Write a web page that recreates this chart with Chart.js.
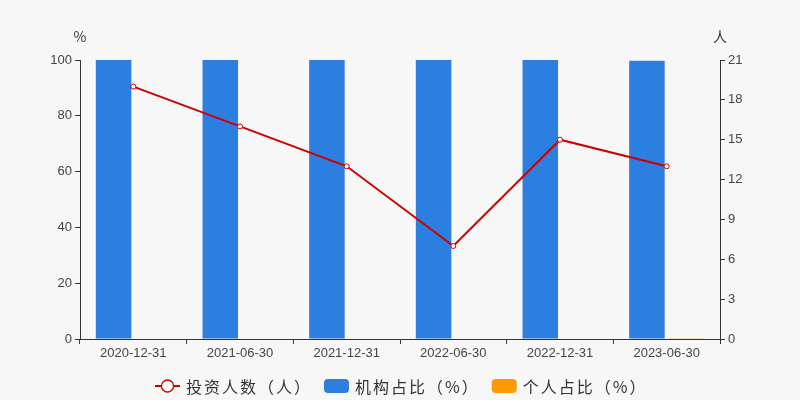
<!DOCTYPE html>
<html>
<head>
<meta charset="utf-8">
<script src="https://cdn.jsdelivr.net/npm/chart.js@4"></script>
<style>
  html, body { margin: 0; padding: 0; background: #f7f7f7; }
  #wrap { width: 800px; height: 400px; }
</style>
</head>
<body>
<div id="wrap"><canvas id="chart"></canvas></div>
<script>
// 数据
const categories = ['2020-12-31', '2021-06-30', '2021-12-31', '2022-06-30', '2022-12-31', '2023-06-30'];
const investors = [19, 16, 13, 7, 15, 13];
const institutionPct = [100, 100, 100, 100, 100, 99.72];
const personalPct = [0, 0, 0, 0, 0, 0.28];
const leftTicks = [0, 20, 40, 60, 80, 100];
const rightTicks = [0, 3, 6, 9, 12, 15, 18, 21];

const legendItems = [
    { label: '投资人数（人）', type: 'line', color: '#cc0000' },
    { label: '机构占比（%）', type: 'bar', color: '#2c7fe0' },
    { label: '个人占比（%）', type: 'bar', color: '#ff9900' }
];

const FONT = '"Liberation Sans", "Noto Sans CJK SC", sans-serif';
const CJK = '"Noto Sans CJK SC", sans-serif';

// 坐标轴标题和图例
const extras = {
    id: 'extras',
    afterDraw(chart) {
        const ctx = chart.ctx;
        const area = chart.chartArea;
        ctx.save();
        ctx.fillStyle = '#333';
        ctx.font = '14px ' + CJK;
        ctx.textAlign = 'center';
        ctx.textBaseline = 'middle';
        ctx.fillText('%', area.left, 37);
        ctx.fillText('人', area.right, 37);

        // 图例
        ctx.font = '16px ' + CJK;
        ctx.letterSpacing = '2px';
        ctx.textAlign = 'left';
        const y = 386;
        let x = 155;
        legendItems.forEach(item => {
            if (item.type === 'line') {
                ctx.strokeStyle = item.color;
                ctx.lineWidth = 2;
                ctx.beginPath();
                ctx.moveTo(x, y);
                ctx.lineTo(x + 25, y);
                ctx.stroke();
                ctx.fillStyle = '#fff';
                ctx.lineWidth = 1.3;
                ctx.beginPath();
                ctx.arc(x + 12.5, y, 6, 0, Math.PI * 2);
                ctx.fill();
                ctx.stroke();
            } else {
                ctx.fillStyle = item.color;
                ctx.beginPath();
                ctx.roundRect(x, y - 7, 25, 14, 4);
                ctx.fill();
            }
            x += 31;
            ctx.fillStyle = '#333';
            ctx.fillText(item.label, x, y + 1);
            x += ctx.measureText(item.label).width + 12;
        });
        ctx.restore();
    }
};

new Chart(document.getElementById('chart'), {
    type: 'bar',
    data: {
        labels: categories,
        datasets: [
            {
                type: 'line',
                label: '投资人数（人）',
                data: investors,
                yAxisID: 'yRight',
                borderColor: '#cc0000',
                borderWidth: 2,
                pointRadius: 2.5,
                pointBorderWidth: 1,
                pointBackgroundColor: '#fff',
                pointBorderColor: '#cc0000',
                tension: 0,
                order: 0
            },
            {
                label: '机构占比（%）',
                data: institutionPct,
                yAxisID: 'yLeft',
                backgroundColor: '#2c7fe0',
                categoryPercentage: 0.74,
                barPercentage: 0.9,
                order: 1
            },
            {
                label: '个人占比（%）',
                data: personalPct,
                yAxisID: 'yLeft',
                backgroundColor: '#ff9900',
                categoryPercentage: 0.74,
                barPercentage: 0.9,
                order: 1
            }
        ]
    },
    options: {
        responsive: true,
        maintainAspectRatio: false,
        animation: false,
        layout: { padding: { top: 60, left: 0, right: 0, bottom: 0 } },
        plugins: {
            legend: { display: false },
            tooltip: { enabled: false }
        },
        scales: {
            x: {
                grid: { display: true, drawOnChartArea: false, offset: true, tickLength: 5, color: '#333' },
                border: { color: '#333', width: 1 },
                ticks: { color: '#444', font: { size: 13, family: FONT }, maxRotation: 0, padding: 2 },
                afterFit(scale) { scale.height = 61; }
            },
            yLeft: {
                position: 'left',
                min: 0,
                max: 100,
                afterBuildTicks(scale) { scale.ticks = leftTicks.map(v => ({ value: v })); },
                grid: { display: true, drawOnChartArea: false, tickLength: 5, color: '#333' },
                border: { color: '#333', width: 1 },
                ticks: { color: '#444', font: { size: 13, family: FONT }, padding: 3 },
                afterFit(scale) { scale.width = 80; }
            },
            yRight: {
                position: 'right',
                min: 0,
                max: 21,
                afterBuildTicks(scale) { scale.ticks = rightTicks.map(v => ({ value: v })); },
                grid: { display: true, drawOnChartArea: false, tickLength: 5, color: '#333' },
                border: { color: '#333', width: 1 },
                ticks: { color: '#444', font: { size: 13, family: FONT }, padding: 3 },
                afterFit(scale) { scale.width = 80; }
            }
        }
    },
    plugins: [extras]
});
</script>
</body>
</html>
